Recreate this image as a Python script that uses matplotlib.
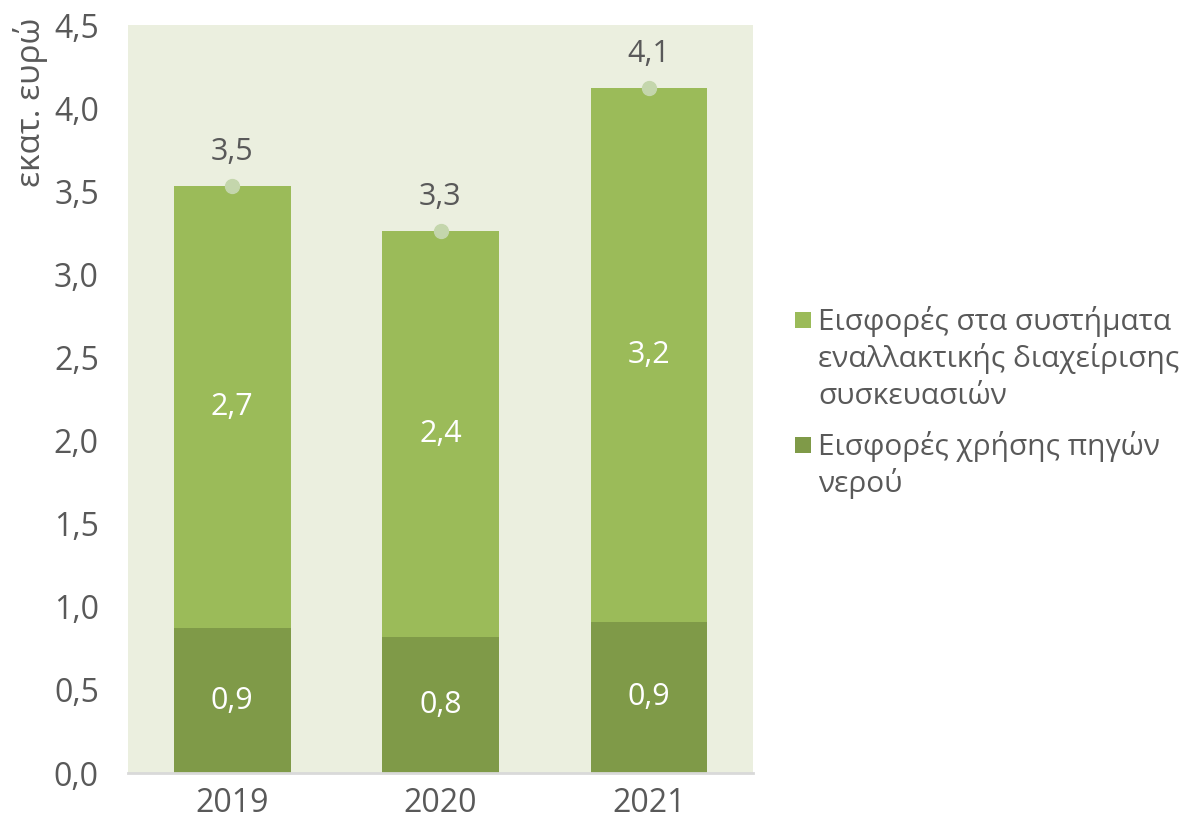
import matplotlib
matplotlib.use("Agg")
import matplotlib.pyplot as plt
from matplotlib.patches import Rectangle

plt.rcParams['font.family'] = ['Open Sans', 'DejaVu Sans']

years = ['2019', '2020', '2021']
water = [0.87, 0.82, 0.91]
packaging = [2.66, 2.44, 3.21]
water_labels = ['0,9', '0,8', '0,9']
pack_labels = ['2,7', '2,4', '3,2']
total_labels = ['3,5', '3,3', '4,1']
yticks = [0.0, 0.5, 1.0, 1.5, 2.0, 2.5, 3.0, 3.5, 4.0, 4.5]
series_names = ['Εισφορές στα συστήματα\nεναλλακτικής διαχείρισης\nσυσκευασιών',
                'Εισφορές χρήσης πηγών\nνερού']

c_dark = '#7F9A48'
c_light = '#9BBB59'
c_bg = '#EBEFDF'
c_text = '#595959'
c_dot = '#C4D6AC'

W, H = 1191, 824
fig = plt.figure(figsize=(W / 100, H / 100), dpi=100)
ax = fig.add_axes([128/W, 1-773/H, (753-128)/W, (773-25)/H])
ax.set_facecolor(c_bg)

x = list(range(len(years)))
w = 0.56
ax.bar(x, water, width=w, color=c_dark, zorder=2)
ax.bar(x, packaging, width=w, bottom=water, color=c_light, zorder=2)
totals = [a + b for a, b in zip(water, packaging)]
ax.plot(x, totals, 'o', color=c_dot, markersize=10, zorder=3, linestyle='none')

for i in x:
    ax.text(i, water[i] / 2, water_labels[i], ha='center', va='center',
            color='white', fontsize=22)
    ax.text(i, water[i] + packaging[i] / 2, pack_labels[i], ha='center', va='center',
            color='white', fontsize=22)
    ax.annotate(total_labels[i], (i, totals[i]), xytext=(0, 14), textcoords='offset points',
                ha='center', va='bottom', color=c_text, fontsize=22)

ax.set_xlim(-0.5, 2.5)
ax.set_ylim(0, 4.5)
ax.set_yticks(yticks)
ax.set_yticklabels([f'{v:.1f}'.replace('.', ',') for v in yticks])
ax.set_xticks(x)
ax.set_xticklabels(years)
ax.tick_params(axis='both', length=0, labelsize=23, colors=c_text)
ax.tick_params(axis='y', pad=21)
ax.tick_params(axis='x', pad=10)
for s in ['top', 'right', 'left']:
    ax.spines[s].set_visible(False)
ax.spines['bottom'].set_color('#D9D9D9')
ax.spines['bottom'].set_linewidth(2)

fig.text(30/W, 1-18/H, 'εκατ. ευρώ', rotation=90, ha='center', va='top',
         color=c_text, fontsize=24)

# manual legend (square aligned with the first line of each entry)
legend_colors = [c_light, c_dark]
first_baselines = [330, 455]
line_step = 37
for name, col, base in zip(series_names, legend_colors, first_baselines):
    fig.patches.append(Rectangle((795/W, 1-(base-2)/H), 16/W, 16/H,
                                 transform=fig.transFigure, facecolor=col,
                                 edgecolor='none'))
    for k, line in enumerate(name.split('\n')):
        fig.text(818/W, 1-(base + k*line_step)/H, line, ha='left', va='baseline',
                 color=c_text, fontsize=21.5)

fig.savefig('out.png', dpi=100)
